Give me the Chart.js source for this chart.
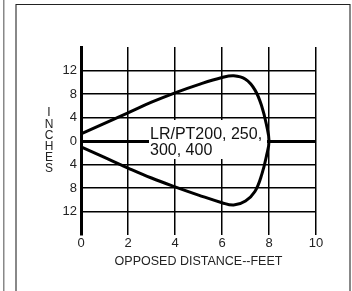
<!DOCTYPE html>
<html>
<head>
<meta charset="utf-8">
<script src="https://cdn.jsdelivr.net/npm/chart.js@4"></script>
<style>
html,body{margin:0;padding:0;background:#fff;}
#c{position:absolute;left:0;top:0;}
</style>
</head>
<body>
<canvas id="c" width="352" height="291"></canvas>
<script>
/* ===== DATA ===== */
const upperX = [0, 1, 2, 3, 4, 5, 6, 6.5, 7, 7.4, 7.7, 7.9, 8];
const upperY = [1.2, 3.0, 4.8, 6.6, 8.2, 9.6, 10.8, 11.1, 10.5, 8.7, 5.8, 2.6, 0];
const lowerX = [8, 7.9, 7.7, 7.4, 7, 6.5, 6, 5, 4, 3, 2, 1, 0];
const lowerY = [0, -2.4, -5.6, -8.6, -10.2, -10.9, -10.5, -9.2, -7.8, -6.3, -4.6, -2.8, -1.0];
const yLabels = [12, 8, 4, 0, -4, -8, -12];
const xTicks = [0, 2, 4, 6, 8, 10];
const yTitle = "INCHES";
const xTitle = "OPPOSED DISTANCE--FEET";
const boxLines = ["LR/PT200, 250,", "300, 400"];

const FONT = "Arial, 'Liberation Sans', sans-serif";

const curve = upperX.map((x,i)=>({x:x,y:upperY[i]}))
  .concat(lowerX.slice(1).map((x,i)=>({x:x,y:lowerY[i+1]})));

/* frame + label box + vertical title */
const extras = {
  id:"extras",
  beforeDraw(chart){
    const c = chart.ctx;
    c.save();
    c.fillStyle="#fff";
    c.fillRect(0,0,chart.width,chart.height);
    c.fillStyle="#888";
    c.fillRect(3,0,1.5,291);
    c.fillRect(15,4,2,287);
    c.fillRect(349,4,2,287);
    c.fillStyle="#222";
    c.fillRect(16,4,334,1);
    c.restore();
  },
  beforeDatasetsDraw(chart){
    const c = chart.ctx;
    c.save();
    c.fillStyle="#fff";
    c.fillRect(149,120,118,39);
    c.fillStyle="#111";
    c.font="16px "+FONT;
    c.textBaseline="alphabetic";
    c.fillText(boxLines[0],150,139);
    c.fillText(boxLines[1],150,155);
    c.restore();
  },
  afterDraw(chart){
    const c = chart.ctx;
    c.save();
    c.fillStyle="#222";
    c.font="12px "+FONT;
    c.textAlign="center";
    c.textBaseline="middle";
    for(let i=0;i<yTitle.length;i++){
      c.fillText(yTitle[i],49,113+i*11.2);
    }
    c.restore();
  }
};

new Chart(document.getElementById("c"),{
  type:"scatter",
  data:{
    datasets:[{
      data:curve,
      showLine:true,
      borderColor:"#000",
      borderWidth:3,
      pointRadius:0,
      tension:0.4,
      fill:false
    }]
  },
  options:{
    responsive:false,
    animation:false,
    events:[],
    layout:{padding:{left:0,top:47,right:36,bottom:0}},
    plugins:{legend:{display:false},tooltip:{enabled:false}},
    scales:{
      x:{
        type:"linear",
        min:0,max:10,
        afterFit(s){ s.height = 56; },
        afterBuildTicks(s){ s.ticks = xTicks.map(v=>({value:v})); },
        grid:{color:"#000",lineWidth:1.5,drawTicks:false},
        border:{display:false},
        ticks:{color:"#222",font:{family:FONT,size:13},padding:1,maxRotation:0},
        title:{display:true,text:xTitle,color:"#222",font:{family:FONT,size:12.5},padding:{top:4,bottom:22}}
      },
      y:{
        type:"linear",
        min:-16,max:16,
        afterFit(s){ s.width = 81; },
        ticks:{
          stepSize:2,
          color:"#222",
          padding:4,
          font:{family:FONT,size:13},
          callback:(v)=> yLabels.includes(v) ? String(Math.abs(v)) : ""
        },
        grid:{
          drawTicks:false,
          color:(ctx)=> Math.abs(ctx.tick.value)===16 ? "rgba(0,0,0,0)" : "#000",
          lineWidth:(ctx)=> ctx.tick.value===0 ? 3 : 1.5
        },
        border:{display:true,color:"#000",width:3}
      }
    }
  },
  plugins:[extras]
});
</script>
</body>
</html>
